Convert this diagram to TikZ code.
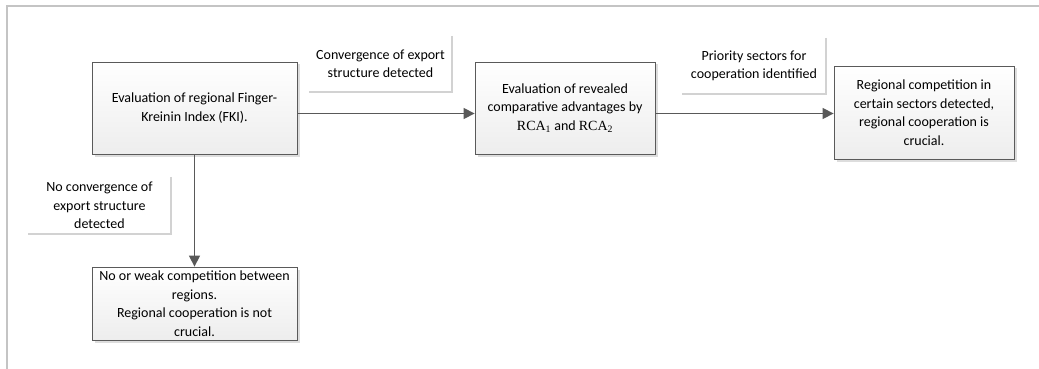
\documentclass[tikz,border=0pt]{standalone}
\usepackage{fontspec}
\setmainfont{Carlito}
\newfontfamily\rcafont{Liberation Serif}
\usetikzlibrary{shadows,arrows.meta}
\definecolor{boxline}{HTML}{5A5A5A}
\definecolor{arrcol}{HTML}{595959}
\definecolor{lblline}{HTML}{D2D2D2}
\definecolor{framecol}{HTML}{C4C4C4}
\newcommand{\rca}[1]{{\rcafont RCA\textsubscript{#1}}}
\begin{document}
\begin{tikzpicture}[x=1pt,y=-1pt,
  every node/.style={font=\fontsize{14}{18.5}\selectfont, align=center, inner sep=0pt},
  procbox/.style={draw=boxline, line width=0.8pt, rectangle, top color=white, bottom color=gray!14,
    drop shadow={shadow xshift=2.5pt, shadow yshift=-2.5pt, fill=gray!45, opacity=0.6}},
  lblbox/.style={rectangle, minimum width=143pt, minimum height=56pt},
  lblline/.style={draw=lblline, line width=1.6pt},
  arr/.style={draw=arrcol, line width=1.4pt, -{Triangle[length=11pt,width=11pt]}}
]
\useasboundingbox (0,0) rectangle (1039,369);
% frame
\draw[framecol, line width=1.2pt] (1039,6) -- (7,6) -- (7,369);

\node[procbox, minimum width=205pt, minimum height=92pt] (b1) at (194.5,108)
  {Evaluation of regional Finger-\\Kreinin Index (FKI).};
\node[procbox, minimum width=180pt, minimum height=92pt] (b2) at (565,108)
  {Evaluation of revealed\\comparative advantages by\\\rca{1} and \rca{2}};
\node[procbox, minimum width=180pt, minimum height=93pt] (b3) at (924,112.5)
  {Regional competition in\\certain sectors detected,\\regional cooperation is\\crucial.};
\node[procbox, minimum width=205pt, minimum height=73pt] (b4) at (194.5,303.5)
  {No or weak competition between\\regions.\\Regional cooperation is not\\crucial.};

\node[lblbox] (l1) at (380.5,64) {Convergence of export\\structure detected};
\node[lblbox] (l2) at (754,66) {Priority sectors for\\cooperation identified};
\node[lblbox, minimum height=57pt] (l3) at (99.5,205.5) {No convergence of\\export structure\\detected};
\foreach \l in {l1,l2,l3}
  \draw[lblline] (\l.north east) -- (\l.south east) -- (\l.south west);

\draw[arr] (b1.east |- 0,113.5) -- (b2.west |- 0,113.5);
\draw[arr] (b2.east |- 0,113.5) -- (b3.west |- 0,113.5);
\draw[arr] (b1.south) -- (b4.north);
\end{tikzpicture}
\end{document}
